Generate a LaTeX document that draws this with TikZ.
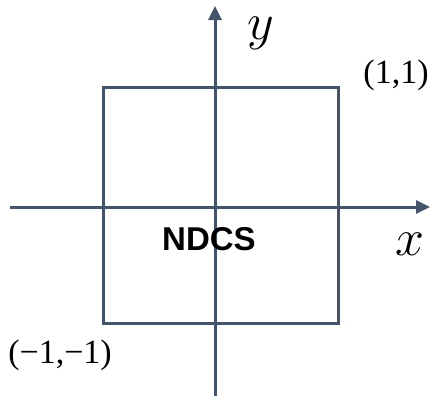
\documentclass[tikz,border=0pt]{standalone}
\usepackage{fix-cm}
\usepackage{fontspec}
\setmainfont{Liberation Serif}
\setsansfont{Liberation Sans}
\usetikzlibrary{positioning,arrows.meta}
\definecolor{axisgray}{HTML}{44546A}

\begin{document}
\begin{tikzpicture}[
  x=1pt, y=-1pt,
  >={Triangle[length=14pt,width=13pt]},
  axis/.style={->, line width=3pt, draw=axisgray},
  box/.style={draw=axisgray, line width=3pt, minimum width=235pt,
              minimum height=236pt, inner sep=0pt},
  lbl/.style={font=\fontsize{34}{36}\selectfont, inner sep=0pt},
  var/.style={font=\fontsize{52}{54}\selectfont, inner sep=0pt},
]
  \useasboundingbox (0,0) rectangle (432,405);

  % the square
  \node[box] (sq) at (220.5,205) {};

  % axes
  \coordinate (xl) at (10,207);
  \coordinate (xr) at (430,207);
  \coordinate (yb) at (215,396);
  \coordinate (yt) at (215,6);
  \draw[axis] (xl) -- (xr);
  \draw[axis] (yb) -- (yt);

  % labels
  \node[var] (ylab) at (261,33) {$y$};
  \node[var] (xlab) at (410,244) {$x$};
  \node[lbl] (pp) at (396,75) {(1,1)};
  \node[lbl] (mm) at (60,355) {(\textminus1,\textminus1)};
  \node[lbl, font=\fontsize{33}{35}\selectfont\sffamily\bfseries] (nd) at (209,239) {NDCS};
\end{tikzpicture}
\end{document}
